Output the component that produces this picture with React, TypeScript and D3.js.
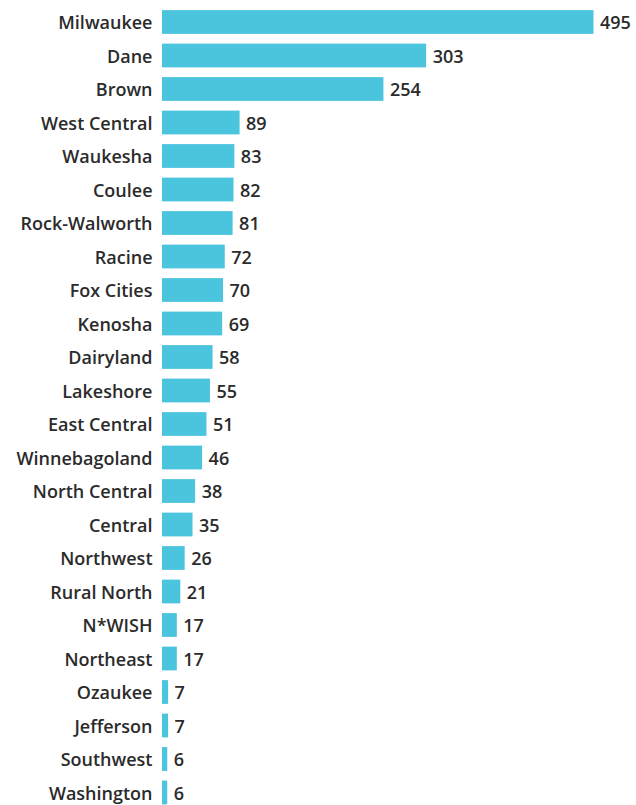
import React from "react";
import * as d3 from "d3";

const categories = ["Milwaukee","Dane","Brown","West Central","Waukesha","Coulee","Rock-Walworth","Racine","Fox Cities","Kenosha","Dairyland","Lakeshore","East Central","Winnebagoland","North Central","Central","Northwest","Rural North","N*WISH","Northeast","Ozaukee","Jefferson","Southwest","Washington"];
const values = [495,303,254,89,83,82,81,72,70,69,58,55,51,46,38,35,26,21,17,17,7,7,6,6];

const W = 636, H = 805;
const x0 = 162;
const x = d3.scaleLinear().domain([0, 495]).range([x0, 593.5]);
const y = d3.scaleBand<string>().domain(categories).range([5.25, 5.25 + 24 * 33.5]).paddingInner(0.29).paddingOuter(0.145);

export default function App() {
  const font = "'Open Sans', sans-serif";
  return (
    <svg width={W} height={H} style={{ position: "absolute", left: 0, top: 0, background: "#fff" }}>
      {categories.map((c, i) => {
        const yy = y(c)!;
        const bw = y.bandwidth();
        const cy = yy + bw / 2;
        return (
          <g key={c}>
            <rect x={x0} y={yy} width={x(values[i]) - x0} height={bw} fill="#4BC4DD" />
            <text x={152.5} y={cy} textAnchor="end" dominantBaseline="central" fontFamily={font} fontWeight={600} fontSize={18} fill="#2b2b2b">{c}</text>
            <text x={x(values[i]) + 6.5} y={cy} dominantBaseline="central" fontFamily={font} fontWeight={600} fontSize={18} fill="#2b2b2b">{values[i]}</text>
          </g>
        );
      })}
    </svg>
  );
}
